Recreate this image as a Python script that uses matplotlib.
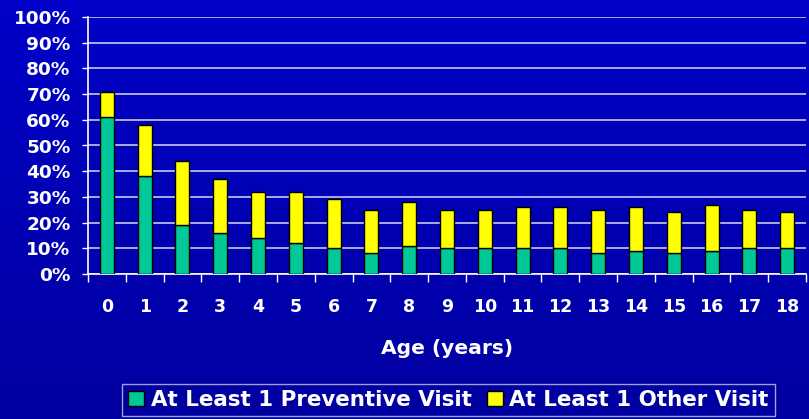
import numpy as np
import matplotlib
matplotlib.use("Agg")
import matplotlib.pyplot as plt
from matplotlib.ticker import MultipleLocator, FuncFormatter

# Share of children with at least one visit, by age
ages = [str(a) for a in range(19)]
preventive = [61, 38, 19, 16, 14, 12, 10, 8, 11, 10, 10, 10, 10, 8, 9, 8, 9, 10, 10]
total_any = [71, 58, 44, 37, 32, 32, 29, 25, 28, 25, 25, 26, 26, 25, 26, 24, 27, 25, 24]
other = [t - p for t, p in zip(total_any, preventive)]

series_names = ["At Least 1 Preventive Visit", "At Least 1 Other Visit"]
x_label = "Age (years)"

GREEN = "#00C896"
YELLOW = "#FFFF00"
WHITE = "#FFFFFF"
GRID = "#C8C8F0"

plt.rcParams["font.family"] = ["DejaVu Sans"]
plt.rcParams["font.weight"] = "bold"

W, H = 809, 419
fig = plt.figure(figsize=(W / 100, H / 100), dpi=100)

# vertical blue gradient background
bg = fig.add_axes([0, 0, 1, 1], zorder=-10)
grad = np.linspace(0, 1, 256).reshape(-1, 1)
top = np.array([0, 0, 200]) / 255
bot = np.array([0, 0, 160]) / 255
img = top[None, None, :] * (1 - grad[..., None]) + bot[None, None, :] * grad[..., None]
bg.imshow(img, aspect="auto", extent=[0, 1, 0, 1], origin="upper")
bg.set_axis_off()

left, right = 88 / W, 806 / W
bottom, topy = 1 - 274 / H, 1 - 17 / H
ax = fig.add_axes([left, bottom, right - left, topy - bottom])
ax.set_facecolor("none")

x = np.arange(len(ages))
bw = 0.37
ax.bar(x, preventive, width=bw, color=GREEN, edgecolor="black", linewidth=1.0,
       label=series_names[0], zorder=3)
ax.bar(x, other, bottom=preventive, width=bw, color=YELLOW, edgecolor="black",
       linewidth=1.0, label=series_names[1], zorder=3)

ax.set_xlim(-0.5, len(ages) - 0.5)
ax.set_ylim(0, 100)

ax.yaxis.set_major_locator(MultipleLocator(10))
ax.yaxis.set_major_formatter(FuncFormatter(lambda v, _: f"{int(v)}%"))
ax.grid(axis="y", color=GRID, linewidth=1.2, zorder=0)
ax.set_axisbelow(True)

ax.set_xticks(x)
ax.set_xticklabels(ages)
ax.set_xticks(np.arange(-0.5, len(ages)), minor=True)

ax.tick_params(axis="y", colors=WHITE, labelsize=13.3, length=4.5, width=1.0,
               pad=8, direction="out")
ax.tick_params(axis="x", which="major", colors=WHITE, labelsize=12.5, length=0,
               pad=17)
ax.tick_params(axis="x", which="minor", colors=WHITE, length=5.8, width=1.0,
               direction="out")
for lab in ax.get_xticklabels() + ax.get_yticklabels():
    lab.set_fontweight("bold")

for side in ("top", "right"):
    ax.spines[side].set_visible(False)
for side in ("left", "bottom"):
    ax.spines[side].set_color(WHITE)
    ax.spines[side].set_linewidth(1.2)

fig.text((left + right) / 2, 1 - 348 / H, x_label, color=WHITE, fontsize=14.6,
         fontweight="bold", ha="center", va="center")

leg = fig.legend(loc="center", bbox_to_anchor=((117 + 780) / 2 / W, 1 - 400 / H),
                 ncol=2, frameon=True, fancybox=False, fontsize=15.4,
                 handlelength=0.75, handleheight=0.75, handletextpad=0.3,
                 columnspacing=0.7, borderpad=0.3, borderaxespad=0)
leg.get_frame().set_facecolor("none")
leg.get_frame().set_edgecolor(GRID)
leg.get_frame().set_linewidth(1.0)
for t in leg.get_texts():
    t.set_color(WHITE)
    t.set_fontweight("bold")

fig.savefig("out.png", dpi=100)
